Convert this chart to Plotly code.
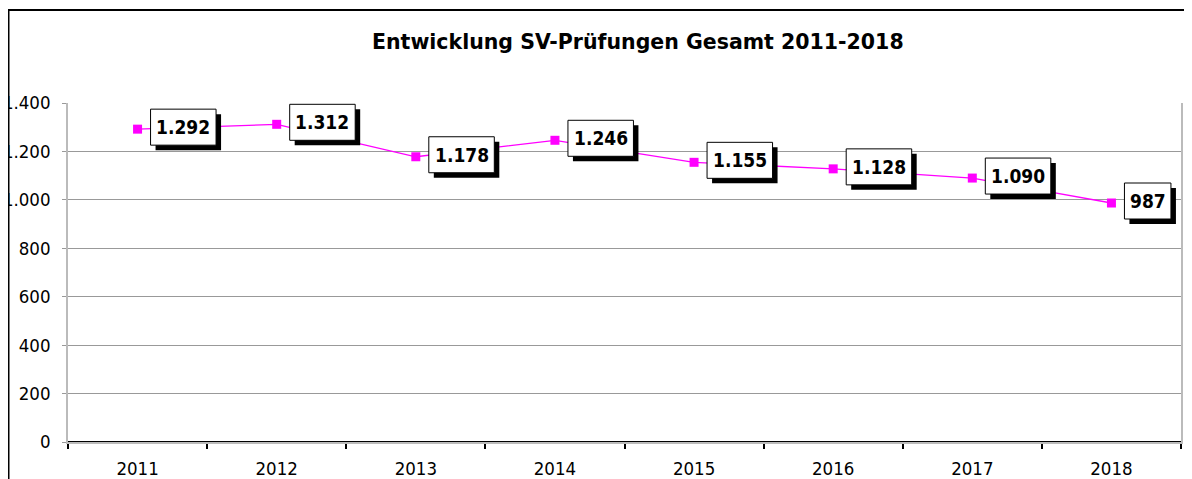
import plotly.graph_objects as go

years = ["2011", "2012", "2013", "2014", "2015", "2016", "2017", "2018"]
values = [1292, 1312, 1178, 1246, 1155, 1128, 1090, 987]
title_text = "Entwicklung SV-Prüfungen Gesamt 2011-2018"

# page body has an 8px margin, so the figure is laid out 8px in from the window
W, H = 1184, 471
L, R, T, B = 60, 11, 95, 37
pw = W - L - R
ph = H - T - B

FONT = "DejaVu Sans Condensed, DejaVu Sans, sans-serif"

fig = go.Figure()
fig.add_trace(go.Scatter(
    x=list(range(len(years))), y=values, mode="lines+markers",
    line=dict(color="#FF00FF", width=1.3),
    marker=dict(symbol="square", size=9, color="#FF00FF"),
    hoverinfo="skip", showlegend=False,
))

def fmt(v):
    return f"{v:,}".replace(",", ".")

def px_x(p):
    return (p - L) / pw

def px_y(p):
    return (H - B - p) / ph

annotations = []
shapes = []
OFFX, OFFY, BH, SH = 13, 2, 36, 5
for i, v in enumerate(values):
    label = fmt(v)
    bw = 18 + 9.5 * len(label)
    # shadow
    shapes.append(dict(type="rect", xref="x", yref="y", xsizemode="pixel", ysizemode="pixel",
                       xanchor=i, yanchor=v,
                       x0=OFFX + SH, x1=OFFX + bw + SH,
                       y0=OFFY - BH / 2 - SH, y1=OFFY + BH / 2 - SH,
                       fillcolor="black", line=dict(width=0), layer="above"))
    # box
    shapes.append(dict(type="rect", xref="x", yref="y", xsizemode="pixel", ysizemode="pixel",
                       xanchor=i, yanchor=v,
                       x0=OFFX, x1=OFFX + bw,
                       y0=OFFY - BH / 2, y1=OFFY + BH / 2,
                       fillcolor="white", line=dict(color="black", width=1), layer="above"))
    annotations.append(dict(x=i, y=v, xref="x", yref="y", text="<b>%s</b>" % label,
                            showarrow=False, xanchor="center", yanchor="middle",
                            xshift=OFFX + bw / 2, yshift=OFFY,
                            font=dict(family=FONT, size=19, color="black")))

annotations.append(dict(
    text="<b>%s</b>" % title_text, xref="paper", yref="paper",
    x=px_x(630), y=px_y(34), xanchor="center", yanchor="middle",
    showarrow=False, font=dict(family="DejaVu Sans, sans-serif", size=20.5, color="black")))

shapes += [
    dict(type="line", xref="paper", yref="paper", x0=px_x(0.5), x1=px_x(0.5),
         y0=px_y(1), y1=px_y(H + 5), line=dict(color="black", width=2), layer="above"),
    dict(type="line", xref="paper", yref="paper", x0=px_x(-1), x1=px_x(W + 5),
         y0=px_y(2), y1=px_y(2), line=dict(color="black", width=2), layer="above"),
    dict(type="line", xref="paper", yref="y", x0=0, x1=1, y0=0, y1=0,
         line=dict(color="black", width=2), layer="above"),
]

fig.update_layout(
    width=W, height=H,
    margin=dict(l=L, r=R, t=T, b=B, autoexpand=False),
    paper_bgcolor="white", plot_bgcolor="white",
    separators=",.",
    font=dict(family=FONT, size=18.5, color="black"),
    annotations=annotations,
    shapes=shapes,
    xaxis=dict(
        type="linear", range=[-0.5, 7.5],
        tickmode="array", tickvals=list(range(len(years))), ticktext=years,
        ticks="", showline=True, linecolor="#bbbbbb", linewidth=1.5,
        showgrid=False, zeroline=False, ticklabelstandoff=9,
        tickfont=dict(family=FONT, size=18.5, color="black"),
        minor=dict(tickmode="array", tickvals=[i - 0.5 for i in range(len(years) + 1)],
                   ticks="outside", ticklen=5, tickwidth=1.5, tickcolor="black",
                   showgrid=False),
    ),
    yaxis=dict(
        range=[0, 1400], dtick=200, tick0=0, separatethousands=True,
        tickformat=",d",
        ticks="outside", ticklen=4, tickwidth=1, tickcolor="#999999",
        showline=True, linecolor="#bbbbbb", linewidth=1.5, mirror=True,
        showgrid=True, gridcolor="#999999", gridwidth=1.2,
        zeroline=False, ticklabelstandoff=8,
        tickfont=dict(family=FONT, size=18.5, color="black"),
    ),
)

fig.write_html("out.html")
